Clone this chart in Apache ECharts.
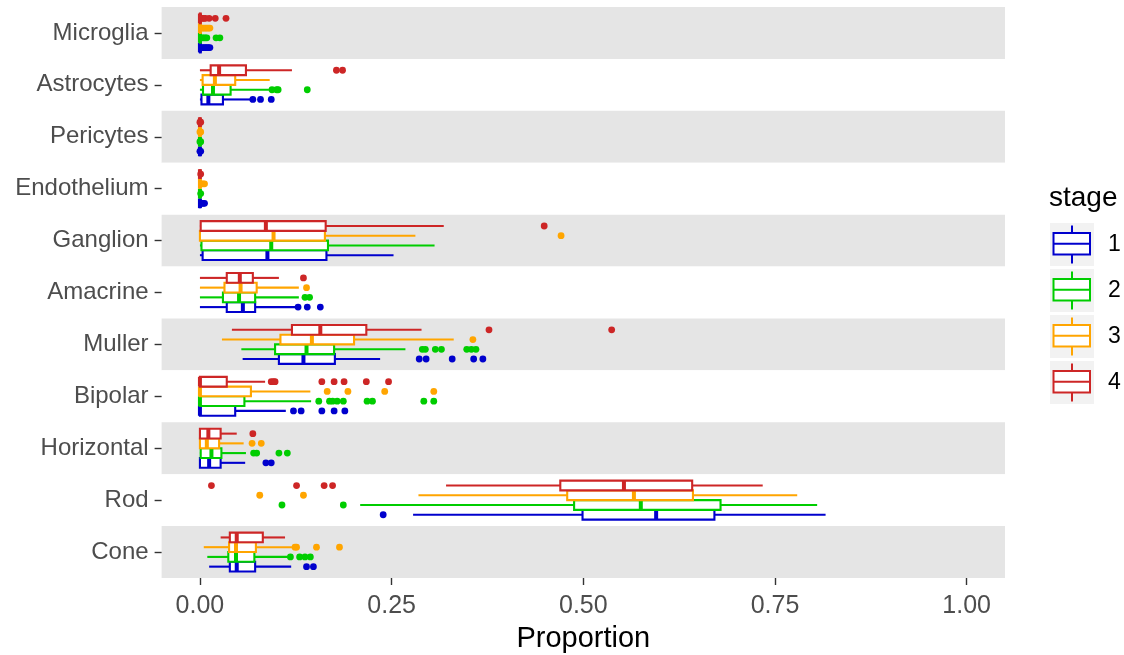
<!DOCTYPE html>
<html lang="en">
<head>
    <meta charset="UTF-8">
    <title>Proportion by cell type and stage</title>
    <script src="https://cdn.jsdelivr.net/npm/echarts@6/dist/echarts.min.js"></script>
    <style>
        html, body {
            margin: 0;
            height: 100%;
            background: #fff;
        }
    </style>
</head>
<body>
<div id="main" style="width: 1124px;height: 655px"></div>
</body>
</html>
<script>

    // categories, top to bottom
    var categories = ['Microglia', 'Astrocytes', 'Pericytes', 'Endothelium', 'Ganglion', 'Amacrine',
        'Muller', 'Bipolar', 'Horizontal', 'Rod', 'Cone'];
    var stages = ['1', '2', '3', '4'];
    var stageColors = ['#0000CD', '#00CD00', '#FFA500', '#CD2626'];
    var xTicks = [0, 0.25, 0.5, 0.75, 1];

    // box stats per category: [lower whisker, q1, median, q3, upper whisker]
    var stage1Box = [
        [0, 0, 0, 0.001, 0.002],
        [0, 0.002, 0.011, 0.03, 0.067],
        [0, 0, 0, 0, 0],
        [0, 0, 0, 0, 0],
        [0, 0.0035, 0.088, 0.165, 0.2525],
        [0, 0.035, 0.056, 0.072, 0.127],
        [0.0557, 0.103, 0.135, 0.176, 0.235],
        [0, 0, 0, 0.046, 0.112],
        [0, 0, 0.012, 0.027, 0.059],
        [0.278, 0.499, 0.595, 0.671, 0.816],
        [0.012, 0.039, 0.048, 0.072, 0.119]
    ];
    var stage2Box = [
        [0, 0, 0, 0.001, 0.002],
        [0, 0.004, 0.017, 0.04, 0.09],
        [0, 0, 0, 0, 0],
        [0, 0, 0, 0, 0],
        [0, 0.002, 0.093, 0.167, 0.306],
        [0, 0.03, 0.051, 0.072, 0.129],
        [0.054, 0.098, 0.139, 0.175, 0.268],
        [0, 0, 0, 0.058, 0.145],
        [0, 0.001, 0.015, 0.028, 0.06],
        [0.209, 0.488, 0.575, 0.679, 0.805],
        [0.0096, 0.037, 0.047, 0.071, 0.117]
    ];
    var stage3Box = [
        [0, 0, 0, 0.001, 0.002],
        [0, 0.0035, 0.0195, 0.046, 0.091],
        [0, 0, 0, 0, 0],
        [0, 0, 0, 0, 0],
        [0, 0, 0.096, 0.163, 0.281],
        [0, 0.032, 0.053, 0.074, 0.129],
        [0.0287, 0.105, 0.146, 0.201, 0.331],
        [0, 0, 0, 0.0665, 0.144],
        [0, 0, 0.009, 0.025, 0.057],
        [0.285, 0.479, 0.566, 0.643, 0.779],
        [0.005, 0.038, 0.047, 0.073, 0.12]
    ];
    var stage4Box = [
        [0, 0, 0, 0.001, 0.002],
        [0, 0.014, 0.025, 0.06, 0.12],
        [0, 0, 0, 0, 0],
        [0, 0, 0, 0, 0],
        [0, 0.001, 0.086, 0.164, 0.318],
        [0, 0.035, 0.052, 0.069, 0.103],
        [0.0417, 0.12, 0.157, 0.217, 0.289],
        [0, 0, 0, 0.035, 0.085],
        [0, 0, 0.011, 0.027, 0.048],
        [0.321, 0.47, 0.553, 0.642, 0.734],
        [0.027, 0.039, 0.048, 0.082, 0.111]
    ];

    // outliers per category (same order as categories)
    var stage1Out = [
        [0.003, 0.005, 0.007, 0.009, 0.011, 0.013],
        [0.069, 0.079, 0.093],
        [0, 0.001],
        [0.002, 0.004, 0.006],
        [],
        [0.128, 0.14, 0.157],
        [0.286, 0.295, 0.329, 0.357, 0.369],
        [0.122, 0.132, 0.159, 0.175, 0.189],
        [0.086, 0.093],
        [0.239],
        [0.139, 0.148]
    ];
    var stage2Out = [
        [0.003, 0.005, 0.007, 0.009, 0.021, 0.026],
        [0.094, 0.1, 0.102, 0.14],
        [0, 0.001],
        [0.001],
        [],
        [0.137, 0.143],
        [0.29, 0.294, 0.307, 0.315, 0.348, 0.354, 0.36],
        [0.155, 0.169, 0.173, 0.179, 0.187, 0.218, 0.225, 0.292, 0.305],
        [0.07, 0.074, 0.103, 0.114],
        [0.107, 0.187],
        [0.118, 0.13, 0.137, 0.144]
    ];
    var stage3Out = [
        [0.003, 0.005, 0.007, 0.009, 0.011, 0.013],
        [],
        [0, 0.001],
        [0.002, 0.004, 0.006],
        [0.471],
        [0.139],
        [0.356],
        [0.166, 0.193, 0.241, 0.305],
        [0.068, 0.08],
        [0.078, 0.135],
        [0.124, 0.126, 0.152, 0.182]
    ];
    var stage4Out = [
        [0.003, 0.005, 0.007, 0.012, 0.02, 0.034],
        [0.178, 0.186],
        [0, 0.001],
        [0.001],
        [0.449],
        [0.135],
        [0.377, 0.537],
        [0.093, 0.096, 0.098, 0.159, 0.175, 0.188, 0.217, 0.246],
        [0.069],
        [0.015, 0.126, 0.162, 0.173],
        []
    ];

    var boxData = [stage1Box, stage2Box, stage3Box, stage4Box];
    var outData = [stage1Out, stage2Out, stage3Out, stage4Out];

    // ggplot-style dodge: 0.75 band split in four, stage 1 at the bottom
    var dodge = [0.28125, 0.09375, -0.09375, -0.28125];
    var boxFrac = 0.1875;
    var font = 'Liberation Sans, Arial, Helvetica, sans-serif';

    function boxRenderer(s) {
        return function (params, api) {
            var cat = api.value(0);
            var band = api.size([0, 1])[1];
            var yc = api.coord([0, cat])[1] + dodge[s] * band;
            var h = band * boxFrac;
            var y0 = yc - h / 2;
            var xLo = api.coord([api.value(1), cat])[0];
            var xQ1 = api.coord([api.value(2), cat])[0];
            var xMed = api.coord([api.value(3), cat])[0];
            var xQ3 = api.coord([api.value(4), cat])[0];
            var xHi = api.coord([api.value(5), cat])[0];
            var c = stageColors[s];
            return {
                type: 'group',
                children: [
                    {type: 'line', shape: {x1: xLo, y1: yc, x2: xQ1, y2: yc}, style: {stroke: c, lineWidth: 2.1}},
                    {type: 'line', shape: {x1: xQ3, y1: yc, x2: xHi, y2: yc}, style: {stroke: c, lineWidth: 2.1}},
                    {
                        type: 'rect', shape: {x: xQ1, y: y0, width: xQ3 - xQ1, height: h},
                        style: {fill: '#fff', stroke: c, lineWidth: 2.1}
                    },
                    {type: 'line', shape: {x1: xMed, y1: y0, x2: xMed, y2: y0 + h}, style: {stroke: c, lineWidth: 4}}
                ]
            };
        };
    }

    function outRenderer(s) {
        return function (params, api) {
            var cat = api.value(0);
            var band = api.size([0, 1])[1];
            var p = api.coord([api.value(1), cat]);
            return {
                type: 'circle',
                shape: {cx: p[0], cy: p[1] + dodge[s] * band, r: 3.4},
                style: {fill: stageColors[s]}
            };
        };
    }

    var series = [];
    stages.forEach(function (name, s) {
        var rows = boxData[s].map(function (b, i) {
            return [i].concat(b);
        });
        series.push({
            name: name,
            type: 'custom',
            renderItem: boxRenderer(s),
            encode: {x: [1, 2, 3, 4, 5], y: 0},
            data: rows,
            z: 2
        });
    });
    stages.forEach(function (name, s) {
        var pts = [];
        outData[s].forEach(function (list, i) {
            list.forEach(function (v) {
                pts.push([i, v]);
            });
        });
        series.push({
            name: name,
            type: 'custom',
            renderItem: outRenderer(s),
            encode: {x: 1, y: 0},
            data: pts,
            z: 3
        });
    });

    // legend drawn as ggplot keys
    var keyLeft = 1050, keyTop = 223, keyW = 44, keyH = 43, keyStep = 46;
    var legend = [{
        type: 'text', left: keyLeft - 1, top: 184,
        style: {text: 'stage', fill: '#000', font: '28px ' + font}
    }];
    stages.forEach(function (name, s) {
        var t = keyTop + s * keyStep;
        var c = stageColors[s];
        legend.push({type: 'rect', shape: {x: keyLeft, y: t, width: keyW, height: keyH}, style: {fill: '#F2F2F2'}});
        legend.push({
            type: 'line', shape: {x1: keyLeft + 22, y1: t + 2.5, x2: keyLeft + 22, y2: t + 40.5},
            style: {stroke: c, lineWidth: 2}
        });
        legend.push({
            type: 'rect', shape: {x: keyLeft + 3.5, y: t + 10, width: 36.5, height: 21.5},
            style: {fill: '#fff', stroke: c, lineWidth: 2}
        });
        legend.push({
            type: 'line', shape: {x1: keyLeft + 3.5, y1: t + 20.75, x2: keyLeft + 40, y2: t + 20.75},
            style: {stroke: c, lineWidth: 2}
        });
        legend.push({
            type: 'text', x: 1108, y: t + keyH / 2,
            style: {text: name, fill: '#000', font: '23px ' + font, verticalAlign: 'middle'}
        });
    });

    var myChart = echarts.init(document.getElementById('main'));
    var option = {
        animation: false,
        textStyle: {fontFamily: font},
        grid: {left: 161.6, right: 119, top: 7, bottom: 77, outerBoundsMode: 'none', containLabel: false},
        xAxis: {
            type: 'value',
            min: -0.05,
            max: 1.05,
            name: 'Proportion',
            nameLocation: 'middle',
            nameGap: 46,
            nameTextStyle: {fontSize: 29, color: '#000', fontFamily: font},
            splitLine: {show: false},
            axisLine: {show: false, onZero: false},
            axisTick: {show: true, length: 7, customValues: xTicks, lineStyle: {color: '#333', width: 1.4}},
            axisLabel: {
                customValues: xTicks, fontSize: 25, color: '#4D4D4D', margin: 16,
                formatter: function (v) {
                    return v.toFixed(2);
                }
            }
        },
        yAxis: {
            type: 'category',
            data: categories,
            inverse: true,
            axisLine: {show: false, onZero: false},
            axisTick: {show: true, alignWithLabel: true, length: 7, lineStyle: {color: '#333', width: 1.4}},
            axisLabel: {fontSize: 24, color: '#4D4D4D', margin: 13},
            splitLine: {show: false},
            splitArea: {show: true, areaStyle: {color: ['#E5E5E5', '#FFFFFF']}}
        },
        graphic: legend,
        series: series
    };
    myChart.setOption(option);

</script>
